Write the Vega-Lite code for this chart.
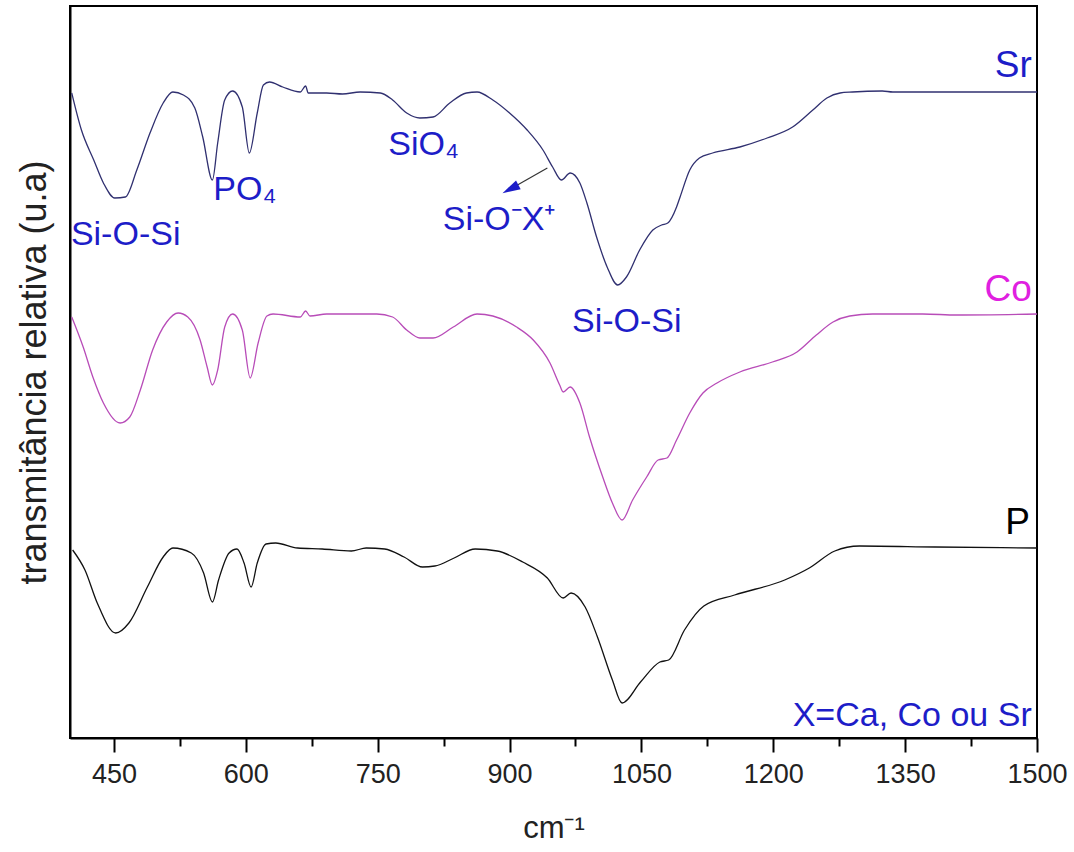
{
  "$schema": "https://vega.github.io/schema/vega-lite/v6.json",
  "width": 967,
  "height": 732,
  "autosize": {"type": "none"},
  "padding": {"left": 70, "top": 6, "right": 37, "bottom": 114},
  "background": "white",
  "config": {
    "view": {"stroke": "black", "strokeWidth": 2},
    "font": "Liberation Sans",
    "text": {"font": "Liberation Sans"}
  },
  "datasets": {
    "spectra": [
      {"s":"Sr","w":402,"T":645},{"s":"Sr","w":413,"T":608},{"s":"Sr","w":427,"T":578},{"s":"Sr","w":438,"T":555},{"s":"Sr","w":451,"T":540},{"s":"Sr","w":463,"T":541},{"s":"Sr","w":476,"T":568},{"s":"Sr","w":491,"T":605},{"s":"Sr","w":506,"T":635},{"s":"Sr","w":517,"T":646},{"s":"Sr","w":529,"T":643},{"s":"Sr","w":542,"T":630},{"s":"Sr","w":551,"T":601},{"s":"Sr","w":562,"T":558},{"s":"Sr","w":568,"T":595},{"s":"Sr","w":576,"T":638},{"s":"Sr","w":585,"T":647},{"s":"Sr","w":596,"T":631},{"s":"Sr","w":604,"T":585},{"s":"Sr","w":613,"T":625},{"s":"Sr","w":620,"T":653},{"s":"Sr","w":627,"T":656},{"s":"Sr","w":642,"T":651},{"s":"Sr","w":662,"T":646},{"s":"Sr","w":668,"T":652},{"s":"Sr","w":671,"T":645},{"s":"Sr","w":692,"T":645},{"s":"Sr","w":710,"T":644},{"s":"Sr","w":730,"T":646},{"s":"Sr","w":753,"T":645},{"s":"Sr","w":767,"T":638},{"s":"Sr","w":783,"T":625},{"s":"Sr","w":798,"T":620},{"s":"Sr","w":813,"T":621},{"s":"Sr","w":832,"T":635},{"s":"Sr","w":851,"T":645},{"s":"Sr","w":863,"T":646},{"s":"Sr","w":881,"T":638},{"s":"Sr","w":900,"T":625},{"s":"Sr","w":920,"T":608},{"s":"Sr","w":938,"T":588},{"s":"Sr","w":949,"T":571},{"s":"Sr","w":959,"T":558},{"s":"Sr","w":969,"T":565},{"s":"Sr","w":980,"T":555},{"s":"Sr","w":988,"T":535},{"s":"Sr","w":999,"T":501},{"s":"Sr","w":1011,"T":471},{"s":"Sr","w":1023,"T":453},{"s":"Sr","w":1033,"T":461},{"s":"Sr","w":1048,"T":488},{"s":"Sr","w":1063,"T":508},{"s":"Sr","w":1073,"T":513},{"s":"Sr","w":1080,"T":515},{"s":"Sr","w":1090,"T":531},{"s":"Sr","w":1094,"T":541},{"s":"Sr","w":1105,"T":568},{"s":"Sr","w":1116,"T":580},{"s":"Sr","w":1131,"T":585},{"s":"Sr","w":1162,"T":591},{"s":"Sr","w":1193,"T":600},{"s":"Sr","w":1222,"T":611},{"s":"Sr","w":1245,"T":628},{"s":"Sr","w":1261,"T":640},{"s":"Sr","w":1276,"T":645},{"s":"Sr","w":1290,"T":646},{"s":"Sr","w":1324,"T":647},{"s":"Sr","w":1336,"T":646},{"s":"Sr","w":1397,"T":646},{"s":"Sr","w":1450,"T":646},{"s":"Sr","w":1500,"T":646},
      {"s":"Co","w":402,"T":421},{"s":"Co","w":415,"T":391},{"s":"Co","w":426,"T":361},{"s":"Co","w":438,"T":335},{"s":"Co","w":457,"T":315},{"s":"Co","w":468,"T":321},{"s":"Co","w":480,"T":348},{"s":"Co","w":494,"T":388},{"s":"Co","w":510,"T":416},{"s":"Co","w":523,"T":425},{"s":"Co","w":534,"T":421},{"s":"Co","w":548,"T":398},{"s":"Co","w":556,"T":371},{"s":"Co","w":562,"T":353},{"s":"Co","w":568,"T":368},{"s":"Co","w":576,"T":411},{"s":"Co","w":585,"T":424},{"s":"Co","w":596,"T":408},{"s":"Co","w":605,"T":360},{"s":"Co","w":614,"T":395},{"s":"Co","w":624,"T":422},{"s":"Co","w":631,"T":424},{"s":"Co","w":662,"T":421},{"s":"Co","w":668,"T":427},{"s":"Co","w":673,"T":422},{"s":"Co","w":692,"T":424},{"s":"Co","w":749,"T":424},{"s":"Co","w":767,"T":421},{"s":"Co","w":783,"T":408},{"s":"Co","w":798,"T":400},{"s":"Co","w":813,"T":400},{"s":"Co","w":836,"T":411},{"s":"Co","w":863,"T":424},{"s":"Co","w":881,"T":422},{"s":"Co","w":908,"T":411},{"s":"Co","w":927,"T":398},{"s":"Co","w":946,"T":375},{"s":"Co","w":957,"T":353},{"s":"Co","w":961,"T":346},{"s":"Co","w":969,"T":351},{"s":"Co","w":980,"T":335},{"s":"Co","w":991,"T":301},{"s":"Co","w":1006,"T":261},{"s":"Co","w":1017,"T":235},{"s":"Co","w":1028,"T":218},{"s":"Co","w":1040,"T":238},{"s":"Co","w":1056,"T":261},{"s":"Co","w":1069,"T":278},{"s":"Co","w":1079,"T":280},{"s":"Co","w":1090,"T":298},{"s":"Co","w":1105,"T":325},{"s":"Co","w":1120,"T":345},{"s":"Co","w":1136,"T":355},{"s":"Co","w":1162,"T":366},{"s":"Co","w":1199,"T":376},{"s":"Co","w":1227,"T":386},{"s":"Co","w":1249,"T":403},{"s":"Co","w":1268,"T":416},{"s":"Co","w":1287,"T":422},{"s":"Co","w":1313,"T":424},{"s":"Co","w":1370,"T":424},{"s":"Co","w":1409,"T":423},{"s":"Co","w":1500,"T":424},
      {"s":"P","w":403,"T":188},{"s":"P","w":417,"T":168},{"s":"P","w":431,"T":135},{"s":"P","w":452,"T":105},{"s":"P","w":467,"T":115},{"s":"P","w":488,"T":151},{"s":"P","w":506,"T":181},{"s":"P","w":517,"T":190},{"s":"P","w":538,"T":185},{"s":"P","w":552,"T":165},{"s":"P","w":562,"T":136},{"s":"P","w":569,"T":158},{"s":"P","w":581,"T":185},{"s":"P","w":590,"T":189},{"s":"P","w":598,"T":175},{"s":"P","w":606,"T":151},{"s":"P","w":613,"T":175},{"s":"P","w":623,"T":194},{"s":"P","w":634,"T":195},{"s":"P","w":659,"T":190},{"s":"P","w":687,"T":189},{"s":"P","w":720,"T":187},{"s":"P","w":737,"T":190},{"s":"P","w":758,"T":189},{"s":"P","w":780,"T":181},{"s":"P","w":801,"T":171},{"s":"P","w":815,"T":172},{"s":"P","w":837,"T":180},{"s":"P","w":861,"T":189},{"s":"P","w":886,"T":187},{"s":"P","w":915,"T":176},{"s":"P","w":943,"T":160},{"s":"P","w":961,"T":140},{"s":"P","w":970,"T":145},{"s":"P","w":986,"T":131},{"s":"P","w":1000,"T":101},{"s":"P","w":1017,"T":58},{"s":"P","w":1028,"T":35},{"s":"P","w":1049,"T":56},{"s":"P","w":1071,"T":76},{"s":"P","w":1081,"T":78},{"s":"P","w":1099,"T":108},{"s":"P","w":1121,"T":132},{"s":"P","w":1156,"T":143},{"s":"P","w":1213,"T":158},{"s":"P","w":1241,"T":170},{"s":"P","w":1270,"T":187},{"s":"P","w":1298,"T":192},{"s":"P","w":1384,"T":191},{"s":"P","w":1500,"T":190}
    ],
    "notes": [
      {"kind":"band","w":401,"T":503,"text":"Si-O-Si"},
      {"kind":"band","w":563,"T":548,"text":"PO₄"},
      {"kind":"band","w":762,"T":593,"text":"SiO₄"},
      {"kind":"band","w":824,"T":518,"text":"Si-O⁻X⁺"},
      {"kind":"band","w":971,"T":416,"text":"Si-O-Si"},
      {"kind":"sample","w":1494,"T":672,"text":"Sr"},
      {"kind":"sample","w":1494,"T":448,"text":"Co"},
      {"kind":"sample","w":1492,"T":215,"text":"P"},
      {"kind":"key","w":1494,"T":22,"text":"X=Ca, Co ou Sr"}
    ],
    "arrow": [
      {"w":943,"T":570,"w2":901,"T2":549}
    ],
    "head": [
      {"w":901,"T":549}
    ]
  },
  "layer": [
    {
      "data": {"name": "spectra"},
      "mark": {"type": "line", "strokeWidth": 1.3, "interpolate": "monotone"},
      "encoding": {
        "x": {
          "field": "w", "type": "quantitative",
          "scale": {"domain": [400, 1500], "nice": false, "zero": false},
          "axis": {
            "values": [450,525,600,675,750,825,900,975,1050,1125,1200,1275,1350,1425,1500],
            "format": "d",
            "labelExpr": "datum.value % 150 === 0 ? datum.label : ''",
            "tickSize": {"condition": {"test": "datum.value % 150 === 0", "value": 14}, "value": 8},
            "tickWidth": 2, "tickColor": "black",
            "domainColor": "black", "domainWidth": 2,
            "labelFontSize": 27, "labelColor": "#222222", "labelPadding": 9,
            "labelFlush": false, "labelOverlap": false,
            "grid": false,
            "title": "cm⁻¹", "titleFontSize": 31, "titleFontWeight": "normal", "titleColor": "#222222", "titlePadding": 26
          }
        },
        "y": {
          "field": "T", "type": "quantitative",
          "scale": {"domain": [0, 732], "nice": false, "zero": false},
          "axis": {
            "ticks": false, "labels": false, "grid": false,
            "domainColor": "black", "domainWidth": 2,
            "title": "transmitância relativa (u.a)", "titleFontSize": 36, "titleFontWeight": "normal", "titleColor": "#222222", "titlePadding": 17
          }
        },
        "color": {
          "field": "s", "type": "nominal",
          "scale": {"domain": ["Sr", "Co", "P"], "range": ["#303070", "#b84cb8", "#111111"]},
          "legend": null
        }
      }
    },
    {
      "data": {"name": "notes"},
      "transform": [{"filter": "datum.kind === 'band'"}],
      "mark": {"type": "text", "align": "left", "baseline": "middle", "fontSize": 34, "color": "#1d1dc8"},
      "encoding": {
        "x": {"field": "w", "type": "quantitative"},
        "y": {"field": "T", "type": "quantitative"},
        "text": {"field": "text"}
      }
    },
    {
      "data": {"name": "notes"},
      "transform": [{"filter": "datum.kind === 'sample'"}],
      "mark": {"type": "text", "align": "right", "baseline": "middle", "fontSize": 37},
      "encoding": {
        "x": {"field": "w", "type": "quantitative"},
        "y": {"field": "T", "type": "quantitative"},
        "text": {"field": "text"},
        "fill": {"field": "text", "type": "nominal", "scale": {"domain": ["Sr", "Co", "P"], "range": ["#1d1dc8", "#e020e0", "#000000"]}, "legend": null}
      }
    },
    {
      "data": {"name": "notes"},
      "transform": [{"filter": "datum.kind === 'key'"}],
      "mark": {"type": "text", "align": "right", "baseline": "middle", "fontSize": 34, "color": "#1d1dc8"},
      "encoding": {
        "x": {"field": "w", "type": "quantitative"},
        "y": {"field": "T", "type": "quantitative"},
        "text": {"field": "text"}
      }
    },
    {
      "data": {"name": "arrow"},
      "mark": {"type": "rule", "color": "#333333", "strokeWidth": 1.2},
      "encoding": {
        "x": {"field": "w", "type": "quantitative"},
        "y": {"field": "T", "type": "quantitative"},
        "x2": {"field": "w2"},
        "y2": {"field": "T2"}
      }
    },
    {
      "data": {"name": "head"},
      "mark": {"type": "point", "shape": "M 0 -1 L 0.55 1 L -0.55 1 Z", "filled": true, "size": 324, "angle": 242, "color": "#1d1dc8", "opacity": 1},
      "encoding": {
        "x": {"field": "w", "type": "quantitative"},
        "y": {"field": "T", "type": "quantitative"}
      }
    }
  ]
}
